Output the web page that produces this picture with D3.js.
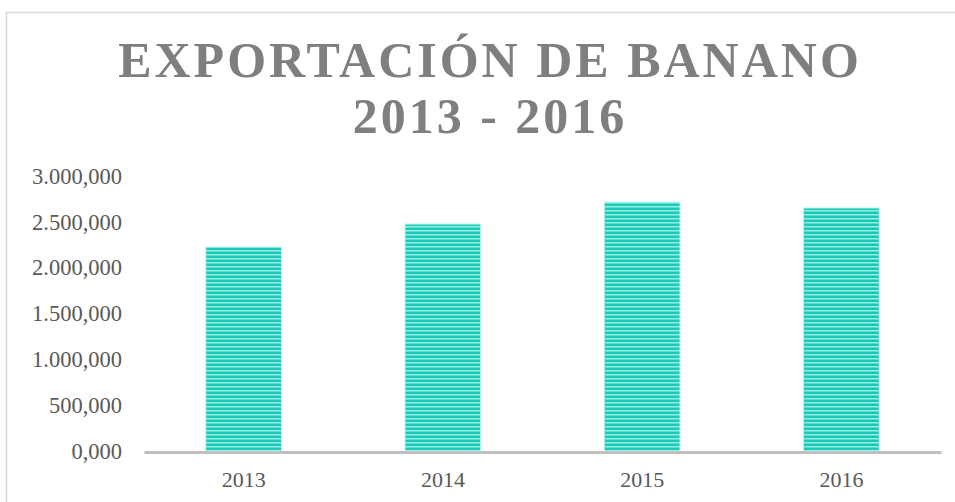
<!DOCTYPE html>
<html>
<head>
<meta charset="utf-8">
<script src="https://cdn.jsdelivr.net/npm/d3@7"></script>
<style>
  body { margin: 0; background: #fff; }
  svg { display: block; }
</style>
</head>
<body>
<div id="chart"></div>
<script>
const years = ['2013', '2014', '2015', '2016'];
const exports = [2225, 2476, 2716, 2651]; // miles
const yTicks = [0, 500, 1000, 1500, 2000, 2500, 3000];
const titleLines = ['EXPORTACIÓN DE BANANO', '2013 - 2016'];

const width = 955,
      height = 502,
      margin = { top: 176, right: 14, bottom: 51, left: 144 };

const locale = d3.formatLocale({ decimal: ',', thousands: '.', grouping: [3], currency: ['', ''] });
const fmt = locale.format(',.3f');

const svg = d3.select('#chart').append('svg')
    .attr('width', width)
    .attr('height', height);

// pattern de rayas horizontales
const defs = svg.append('defs');
const pat = defs.append('pattern')
    .attr('id', 'stripes')
    .attr('patternUnits', 'userSpaceOnUse')
    .attr('width', 8).attr('height', 4);
pat.append('rect').attr('width', 8).attr('height', 4).attr('fill', '#1bc9b8');
pat.append('rect').attr('y', 2).attr('width', 8).attr('height', 1.5).attr('fill', '#96ede2');

// marco
svg.append('rect')
    .attr('x', 6.5).attr('y', 12.5)
    .attr('width', width).attr('height', height)
    .attr('fill', 'none')
    .attr('stroke', '#d9d9d9')
    .attr('stroke-width', 1.5);

const x = d3.scaleBand()
    .domain(years)
    .range([margin.left, width - margin.right])
    .paddingInner(0.62)
    .paddingOuter(0.31);

const y = d3.scaleLinear()
    .domain([0, 3000])
    .range([height - margin.bottom, margin.top]);

// barras
svg.selectAll('rect.bar')
    .data(exports)
    .enter().append('rect')
    .attr('class', 'bar')
    .attr('x', (d, i) => x(years[i]))
    .attr('y', d => y(d))
    .attr('width', x.bandwidth())
    .attr('height', d => y(0) - y(d))
    .attr('fill', 'url(#stripes)')
    .attr('stroke', '#bdf3ec')
    .attr('stroke-width', 1);

// eje X
const xAxis = svg.append('g')
    .attr('transform', `translate(0,${y(0) + 1})`)
    .call(d3.axisBottom(x).tickSize(0).tickPadding(19));
xAxis.select('.domain').attr('stroke', '#bfbfbf').attr('stroke-width', 3);
xAxis.selectAll('text')
    .attr('fill', '#595959')
    .style('font-family', '"Liberation Serif", "Times New Roman", serif')
    .style('font-size', '22px');

// eje Y
const yAxis = svg.append('g')
    .attr('transform', `translate(${margin.left - 22},0)`)
    .call(d3.axisLeft(y).tickValues(yTicks).tickFormat(fmt).tickSize(0).tickPadding(0));
yAxis.select('.domain').remove();
yAxis.selectAll('text')
    .attr('fill', '#595959')
    .style('font-family', '"Liberation Serif", "Times New Roman", serif')
    .style('font-size', '22.5px');

// título
svg.append('g').selectAll('text')
    .data(titleLines)
    .enter().append('text')
    .attr('x', 490)
    .attr('y', (d, i) => 77 + i * 56)
    .attr('text-anchor', 'middle')
    .attr('fill', '#7f7f7f')
    .style('font-family', '"Liberation Serif", "Times New Roman", serif')
    .style('font-weight', 'bold')
    .style('font-size', '50px')
    .style('letter-spacing', '3px')
    .text(d => d);
</script>
</body>
</html>
